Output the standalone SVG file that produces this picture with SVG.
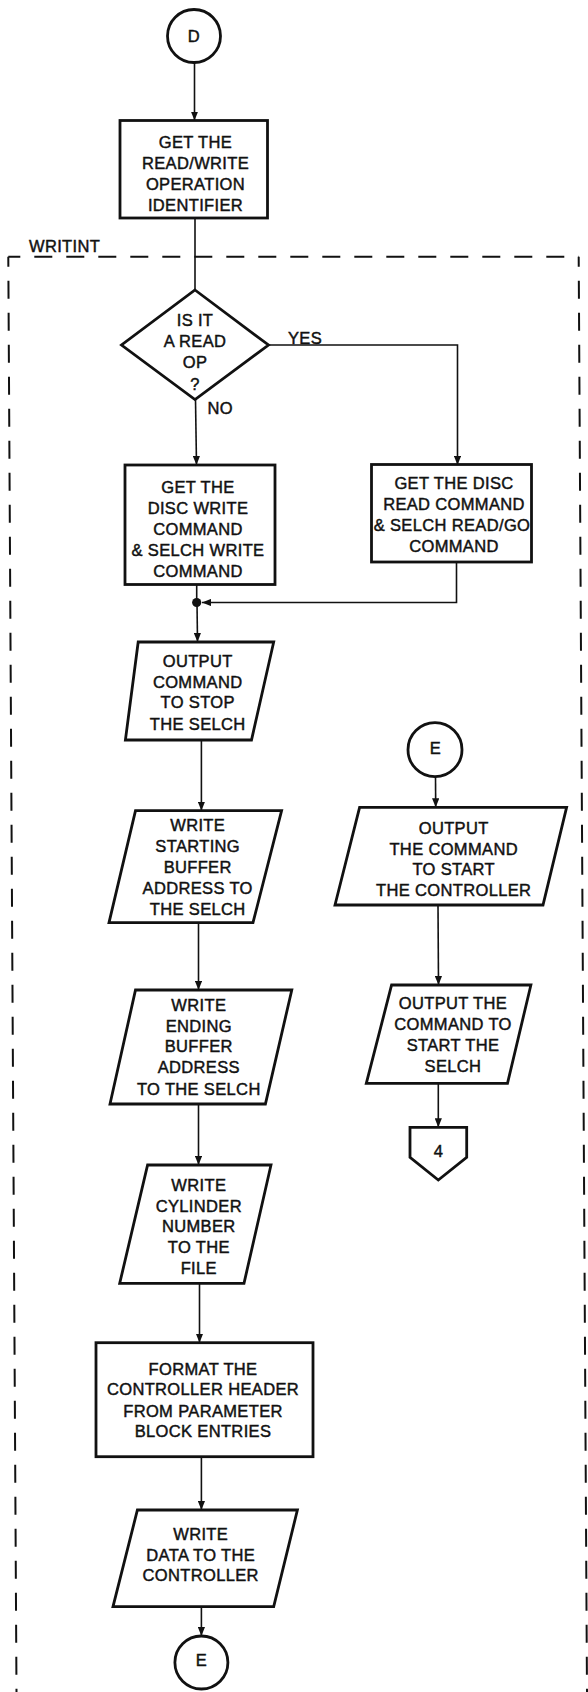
<svg xmlns="http://www.w3.org/2000/svg" width="588" height="1692" viewBox="0 0 588 1692">
<style>
.t{font-family:"Liberation Sans",Arial,Helvetica,sans-serif;font-size:16.5px;letter-spacing:0.35px;fill:#111;stroke:#111;stroke-width:0.45px;text-anchor:middle}
.l{text-anchor:start}
.s{fill:#fff;stroke:#111;stroke-width:2.8;stroke-linejoin:miter}
.c{fill:none;stroke:#111;stroke-width:1.6}
.d{fill:none;stroke:#111;stroke-width:2;stroke-dasharray:18 14}
</style>
<defs>
<marker id="ah" viewBox="0 0 10 8" refX="10" refY="4" markerWidth="9" markerHeight="7.5" markerUnits="userSpaceOnUse" orient="auto">
<path d="M0,0 L10,4 L0,8 z" fill="#111"/>
</marker>
</defs>
<rect width="588" height="1692" fill="#fff"/>

<g id="writint-frame">
<path class="d" d="M8.3,256.7 L578.7,256.7" stroke-dashoffset="6"/>
<path class="d" d="M8.3,256.7 L16.5,1692" stroke-dashoffset="8"/>
<path class="d" d="M578.7,256.7 L587,1692" stroke-dashoffset="8"/>
<text class="t l" x="29" y="252">WRITINT</text>
</g>

<g id="connectors">
<line class="c" x1="194.5" y1="62.5" x2="194.5" y2="120.5" marker-end="url(#ah)"/>
<line class="c" x1="195" y1="218" x2="195" y2="290"/>
<line class="c" x1="195.5" y1="399.5" x2="196.5" y2="465" marker-end="url(#ah)"/>
<polyline class="c" points="268.5,345 457.5,345 457.5,465" marker-end="url(#ah)"/>
<line class="c" x1="196.7" y1="584.5" x2="196.7" y2="602.5"/>
<polyline class="c" points="456.5,562 456.5,602.5 202,602.5" marker-end="url(#ah)"/>
<line class="c" x1="197" y1="602.5" x2="197.5" y2="642" marker-end="url(#ah)"/>
<line class="c" x1="201.4" y1="740" x2="201.4" y2="810.7" marker-end="url(#ah)"/>
<line class="c" x1="198.5" y1="922.7" x2="198.5" y2="990" marker-end="url(#ah)"/>
<line class="c" x1="198.5" y1="1104" x2="198.5" y2="1165" marker-end="url(#ah)"/>
<line class="c" x1="199.5" y1="1283.3" x2="199.5" y2="1342.7" marker-end="url(#ah)"/>
<line class="c" x1="201.4" y1="1456.7" x2="201.4" y2="1510" marker-end="url(#ah)"/>
<line class="c" x1="201.4" y1="1606.7" x2="201.4" y2="1636" marker-end="url(#ah)"/>
<line class="c" x1="435.5" y1="776.7" x2="435.7" y2="807.3" marker-end="url(#ah)"/>
<line class="c" x1="438" y1="905" x2="438.5" y2="985" marker-end="url(#ah)"/>
<line class="c" x1="438.3" y1="1083.3" x2="438.3" y2="1127.3" marker-end="url(#ah)"/>
<circle cx="196.7" cy="602.5" r="4.6" fill="#111"/>
</g>

<g id="node-d">
<circle class="s" cx="194" cy="36" r="26.5"/>
<text class="t" x="194" y="41.5">D</text>
</g>

<g id="node-get-op">
<rect class="s" x="120" y="120.5" width="147.5" height="97.5"/>
<text class="t" x="195.5" y="148.2">GET THE</text>
<text class="t" x="195.5" y="169.2">READ/WRITE</text>
<text class="t" x="195.5" y="190">OPERATION</text>
<text class="t" x="195.5" y="211">IDENTIFIER</text>
</g>

<g id="node-read-op">
<polygon class="s" points="195,290 268.5,345 195,399.5 121.5,345"/>
<text class="t" x="195" y="325.8">IS IT</text>
<text class="t" x="195" y="347.4">A READ</text>
<text class="t" x="195" y="368.4">OP</text>
<text class="t" x="195" y="389.7">?</text>
</g>

<g id="labels">
<text class="t l" x="288" y="343.5">YES</text>
<text class="t l" x="207.5" y="414">NO</text>
</g>

<g id="node-write-cmd">
<rect class="s" x="125" y="465" width="150" height="119.5"/>
<text class="t" x="198" y="493">GET THE</text>
<text class="t" x="198" y="514">DISC WRITE</text>
<text class="t" x="198" y="535">COMMAND</text>
<text class="t" x="198" y="555.8">&amp; SELCH WRITE</text>
<text class="t" x="198" y="576.8">COMMAND</text>
</g>

<g id="node-read-cmd">
<rect class="s" x="371.5" y="464.5" width="160" height="97.5"/>
<text class="t" x="454" y="489">GET THE DISC</text>
<text class="t" x="454" y="510">READ COMMAND</text>
<text class="t" x="452" y="531.4">&amp; SELCH READ/GO</text>
<text class="t" x="454" y="552.4">COMMAND</text>
</g>

<g id="node-stop-selch">
<polygon class="s" points="138.2,642 273.7,642 251.5,740 125.4,740"/>
<text class="t" x="197.7" y="667.4">OUTPUT</text>
<text class="t" x="197.7" y="688">COMMAND</text>
<text class="t" x="197.7" y="708.4">TO STOP</text>
<text class="t" x="197.7" y="729.7">THE SELCH</text>
</g>

<g id="node-start-addr">
<polygon class="s" points="135.5,810.7 281.6,810.7 253,922.7 109,922.7"/>
<text class="t" x="197.7" y="831.4">WRITE</text>
<text class="t" x="197.7" y="852.4">STARTING</text>
<text class="t" x="197.7" y="873">BUFFER</text>
<text class="t" x="197.7" y="894">ADDRESS TO</text>
<text class="t" x="197.7" y="915">THE SELCH</text>
</g>

<g id="node-end-addr">
<polygon class="s" points="135.5,990 291.8,990 265.4,1104 110,1104"/>
<text class="t" x="198.8" y="1010.7">WRITE</text>
<text class="t" x="198.8" y="1031.7">ENDING</text>
<text class="t" x="198.8" y="1052.4">BUFFER</text>
<text class="t" x="198.8" y="1073.4">ADDRESS</text>
<text class="t" x="198.8" y="1094.7">TO THE SELCH</text>
</g>

<g id="node-cylinder">
<polygon class="s" points="147.6,1165 271,1165 244,1283.3 119.7,1283.3"/>
<text class="t" x="198.8" y="1190.7">WRITE</text>
<text class="t" x="198.8" y="1211.7">CYLINDER</text>
<text class="t" x="198.8" y="1232.4">NUMBER</text>
<text class="t" x="198.8" y="1253.4">TO THE</text>
<text class="t" x="198.8" y="1274">FILE</text>
</g>

<g id="node-format">
<rect class="s" x="96" y="1342.7" width="217" height="114"/>
<text class="t" x="203" y="1375">FORMAT THE</text>
<text class="t" x="203" y="1395">CONTROLLER HEADER</text>
<text class="t" x="203" y="1416.7">FROM PARAMETER</text>
<text class="t" x="203" y="1437.4">BLOCK ENTRIES</text>
</g>

<g id="node-write-data">
<polygon class="s" points="137.4,1510 297.4,1510 273.7,1606.7 113,1606.7"/>
<text class="t" x="200.7" y="1540">WRITE</text>
<text class="t" x="200.7" y="1560.7">DATA TO THE</text>
<text class="t" x="200.7" y="1581.4">CONTROLLER</text>
</g>

<g id="node-e-out">
<circle class="s" cx="201.4" cy="1662.5" r="26.5"/>
<text class="t" x="201.4" y="1666">E</text>
</g>

<g id="node-e-in">
<circle class="s" cx="435" cy="749.7" r="27"/>
<text class="t" x="435.5" y="754">E</text>
</g>

<g id="node-start-ctrl">
<polygon class="s" points="359.6,807.3 566.6,807.3 543,905 335,905"/>
<text class="t" x="453.7" y="834">OUTPUT</text>
<text class="t" x="453.7" y="854.7">THE COMMAND</text>
<text class="t" x="453.7" y="875.4">TO START</text>
<text class="t" x="453.7" y="895.7">THE CONTROLLER</text>
</g>

<g id="node-start-selch">
<polygon class="s" points="391.6,985 530.9,985 507.5,1083.3 366.3,1083.3"/>
<text class="t" x="453" y="1009">OUTPUT THE</text>
<text class="t" x="453" y="1030">COMMAND TO</text>
<text class="t" x="453" y="1051.4">START THE</text>
<text class="t" x="453" y="1072.4">SELCH</text>
</g>

<g id="node-off-page-4">
<polygon class="s" points="410,1127.3 466.7,1127.3 466.7,1157.3 438.3,1180 410,1157.3"/>
<text class="t" x="438.5" y="1157.4">4</text>
</g>
</svg>
